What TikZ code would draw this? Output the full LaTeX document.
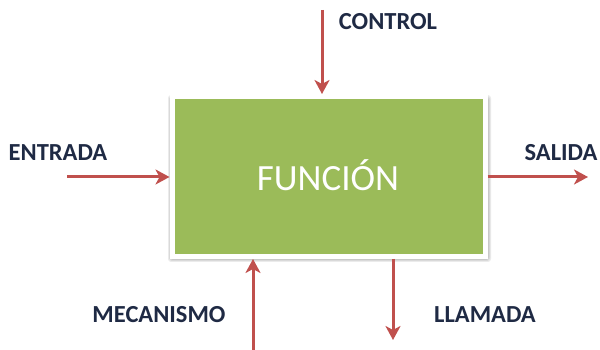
\documentclass[tikz,border=0pt]{standalone}
\usepackage{fontspec}
\setmainfont{Carlito}
\usetikzlibrary{arrows.meta}
\definecolor{boxgreen}{HTML}{9BBB59}
\definecolor{arrred}{HTML}{C0504D}
\definecolor{labnavy}{HTML}{1F2A44}
\tikzset{
  conn/.style={draw=arrred, line width=3pt, -{Stealth[length=14pt,width=15pt,inset=4pt]}},
  lab/.style={font=\fontsize{24.5}{26}\selectfont\bfseries, text=labnavy, inner sep=0pt},
  funcbox/.style={draw=white, line width=5pt, fill=boxgreen, minimum width=313pt, minimum height=160pt, inner sep=0pt},
  shade1/.style={fill=black, opacity=0.08, rounded corners=3pt}
}
\begin{document}
\begin{tikzpicture}[x=1pt,y=1pt]
\useasboundingbox (0,0) rectangle (600,350);
\fill[shade1] (168,88) rectangle (491,255);
\fill[shade1] (169,89) rectangle (490,254);
\fill[shade1] (170,90) rectangle (489,253);
\node[funcbox] (f) at (328.5,173.5) {};
\node[text=white, font=\fontsize{37}{40}\selectfont, inner sep=0pt] (ft) at (328,175) {FUNCIÓN};
\coordinate (cin) at (322,340);
\coordinate (ein) at (67,173);
\coordinate (sout) at (588,173);
\coordinate (min) at (253,0);
\coordinate (lout) at (393,10);
\draw[conn] (cin) -- (cin |- f.north);
\draw[conn] (ein) -- (ein -| f.west);
\draw[conn] (f.east |- sout) -- (sout);
\draw[conn] (min) -- (min |- f.south);
\draw[conn] (f.south -| lout) -- (lout);
\node[lab] (lc) at (388,328) {CONTROL};
\node[lab] (le) at (58,197) {ENTRADA};
\node[lab] (ls) at (561,197) {SALIDA};
\node[lab] (lm) at (159,35) {MECANISMO};
\node[lab] (ll) at (485,35) {LLAMADA};
\end{tikzpicture}
\end{document}
